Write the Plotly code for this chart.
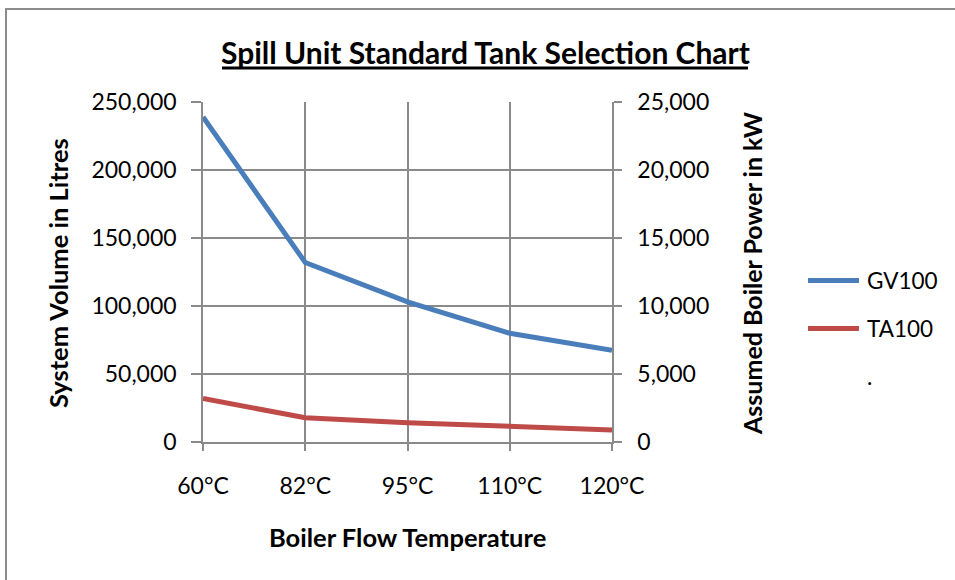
import plotly.graph_objects as go

categories = ["60°C", "82°C", "95°C", "110°C", "120°C"]
gv100_litres = [239000, 132000, 103000, 80000, 67500]
ta100_kw = [3200, 1780, 1420, 1120, 880]
series_names = ["GV100", "TA100", "."]
series_colors = ["#4A7EBB", "#BE4B48", "rgba(0,0,0,0)"]

left_ticks = [0, 50000, 100000, 150000, 200000, 250000]
right_ticks = [0, 5000, 10000, 15000, 20000, 25000]

W, H = 955, 580
L, R, T, B = 203, 343, 102, 138
PW, PH = W - L - R, H - T - B

def px(x):
    return (x - L) / PW

def py(y):
    return (H - B - y) / PH

FONT = "Lato"
GRID = "#8a8a8a"

fig = go.Figure()
fig.add_trace(go.Scatter(x=categories, y=gv100_litres, name=series_names[0], mode="lines",
                         line=dict(color=series_colors[0], width=5), yaxis="y", showlegend=False))
fig.add_trace(go.Scatter(x=categories, y=ta100_kw, name=series_names[1], mode="lines",
                         line=dict(color=series_colors[1], width=5), yaxis="y2", showlegend=False))

axis_common = dict(showline=True, linecolor=GRID, linewidth=1.5,
                   gridcolor=GRID, gridwidth=1.5, ticks="outside", tickcolor=GRID,
                   tickwidth=1.5, zeroline=False,
                   tickfont=dict(family=FONT, size=23, color="#000000"))

fig.update_layout(
    width=W, height=H,
    margin=dict(l=L, r=R, t=T, b=B),
    paper_bgcolor="white", plot_bgcolor="white",
    font=dict(family=FONT, color="#000000"),
    xaxis=dict(type="category", range=[0, len(categories) - 1], ticklen=7, showgrid=True,
               ticklabelstandoff=16, **axis_common),
    yaxis=dict(range=[0, 250000], tickvals=left_ticks, tickformat=",d", ticklen=10, showgrid=True,
               ticklabelstandoff=10, **axis_common),
    yaxis2=dict(range=[0, 25000], tickvals=right_ticks, tickformat=",d", overlaying="y",
                side="right", ticklen=8, ticklabelstandoff=11, showgrid=False, **axis_common),
)

# titles
fig.add_annotation(text="<b>Spill Unit Standard Tank Selection Chart</b>", x=px(485), y=py(52),
                   xref="paper", yref="paper", showarrow=False, xanchor="center", yanchor="middle",
                   font=dict(family=FONT, size=30, color="#000000"))
fig.add_shape(type="line", xref="paper", yref="paper", x0=px(222), x1=px(748), y0=py(68), y1=py(68),
              line=dict(color="#000000", width=3))
fig.add_annotation(text="<b>System Volume in Litres</b>", x=px(58), y=py(273), textangle=-90,
                   xref="paper", yref="paper", showarrow=False, xanchor="center", yanchor="middle",
                   font=dict(family=FONT, size=25.5, color="#000000"))
fig.add_annotation(text="<b>Assumed Boiler Power in kW</b>", x=px(752), y=py(273), textangle=-90,
                   xref="paper", yref="paper", showarrow=False, xanchor="center", yanchor="middle",
                   font=dict(family=FONT, size=25, color="#000000"))
fig.add_annotation(text="<b>Boiler Flow Temperature</b>", x=px(407), y=py(537),
                   xref="paper", yref="paper", showarrow=False, xanchor="center", yanchor="middle",
                   font=dict(family=FONT, size=25.5, color="#000000"))

# legend
for i, (name, color) in enumerate(zip(series_names, series_colors)):
    ly = 280.5 + 48 * i
    fig.add_shape(type="line", xref="paper", yref="paper", x0=px(808), x1=px(859), y0=py(ly), y1=py(ly),
                  line=dict(color=color, width=5))
    fig.add_annotation(text=name, x=px(865), y=py(ly), xref="paper", yref="paper", showarrow=False,
                       xanchor="left", yanchor="middle", font=dict(family=FONT, size=22.5, color="#000000"))

# outer border
fig.add_shape(type="rect", xref="paper", yref="paper", x0=px(6), x1=px(970), y0=py(9), y1=py(600),
              line=dict(color="#8c8c8c", width=2), layer="below")

fig.write_html("out.html", config={"displayModeBar": False},
               post_script="document.body.style.margin='0';document.body.style.overflow='hidden';")
